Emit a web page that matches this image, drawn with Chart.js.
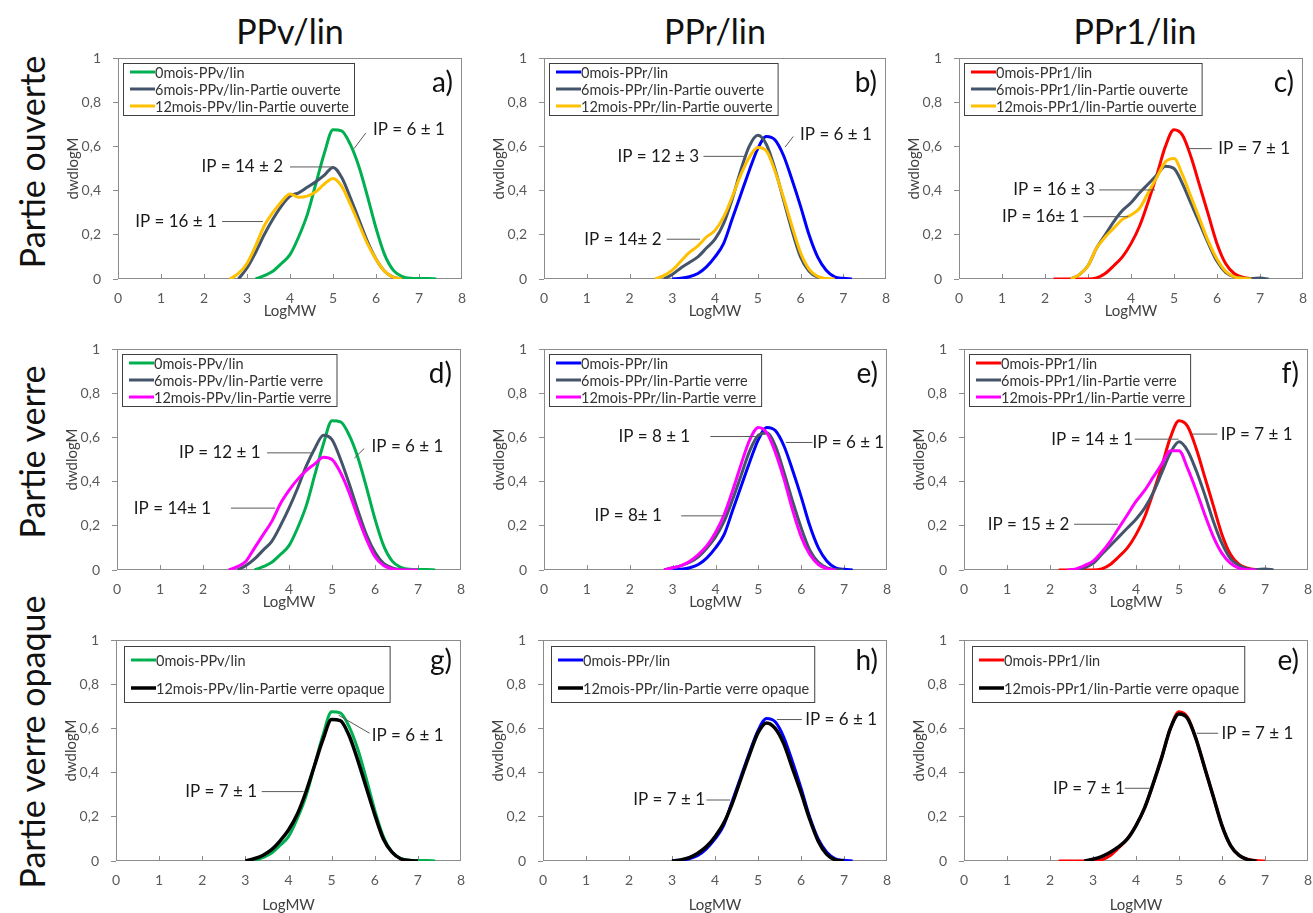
<!DOCTYPE html>
<html lang="fr">
<head>
<meta charset="UTF-8">
<title>dwdlogM - PPv/lin, PPr/lin, PPr1/lin</title>
<script src="https://cdn.jsdelivr.net/npm/chart.js"></script>
<style>
  body { margin:0; width:1313px; height:913px; overflow:hidden; background:#fff; font-family:Lato, sans-serif; position:relative; }
  canvas { position:absolute; }
  .head { position:absolute; font-size:34px; color:#111; white-space:nowrap; transform:translate(-50%,-50%); }
  .side { position:absolute; font-size:34px; color:#111; white-space:nowrap; transform:translate(-50%,-50%) rotate(-90deg); }
</style>
</head>
<body>
<div class="head" style="left:290px;top:30px">PPv/lin</div>
<div class="head" style="left:715px;top:30px">PPr/lin</div>
<div class="head" style="left:1135px;top:30px">PPr1/lin</div>
<div class="side" style="left:31px;top:162px">Partie ouverte</div>
<div class="side" style="left:31px;top:452px">Partie verre</div>
<div class="side" style="left:31px;top:742px">Partie verre opaque</div>

<script>
// abscisse commune (LogMW)
const LOGMW = [2.2, 2.4, 2.6, 2.8, 3.0, 3.2, 3.4, 3.6, 3.8, 4.0, 4.2, 4.4, 4.6, 4.8, 5.0,
               5.2, 5.4, 5.6, 5.8, 6.0, 6.2, 6.4, 6.6, 6.8, 7.0, 7.2, 7.4];
const n = null;

// courbes dwdlogM
const PPV_0       = [n,n,n,n,n,0,0.015,0.035,0.07,0.11,0.19,0.29,0.43,0.57,0.675,0.67,0.61,0.51,0.375,0.23,0.11,0.04,0.012,0.003,0.002,0.002,0];
const PPV_6_OUV   = [n,n,n,0,0.05,0.12,0.2,0.27,0.33,0.375,0.39,0.415,0.44,0.47,0.505,0.46,0.37,0.27,0.17,0.09,0.035,0.008,0,n,n,n,n];
const PPV_12_OUV  = [n,n,0,0.025,0.07,0.15,0.24,0.3,0.35,0.385,0.37,0.375,0.395,0.43,0.455,0.42,0.34,0.25,0.16,0.09,0.035,0.008,0,n,n,n,n];
const PPR_0       = [n,n,n,n,0,0.003,0.01,0.025,0.055,0.1,0.16,0.27,0.38,0.49,0.59,0.645,0.63,0.56,0.45,0.33,0.2,0.1,0.04,0.01,0.003,0,n];
const PPR_6_OUV   = [n,n,n,0,0.02,0.05,0.075,0.1,0.14,0.18,0.25,0.36,0.49,0.6,0.65,0.61,0.5,0.36,0.22,0.1,0.035,0.008,0,n,n,n,n];
const PPR_12_OUV  = [n,n,0,0.015,0.04,0.08,0.12,0.15,0.19,0.22,0.28,0.37,0.47,0.55,0.595,0.58,0.49,0.37,0.24,0.12,0.045,0.012,0.002,0,n,n,n];
const PPR1_0      = [0,0,0,0,0,0.005,0.025,0.06,0.1,0.16,0.24,0.35,0.47,0.6,0.675,0.65,0.55,0.42,0.29,0.16,0.07,0.025,0.008,0.002,0,n,n];
const PPR1_6_OUV  = [n,n,0,0.02,0.06,0.14,0.2,0.26,0.31,0.345,0.39,0.43,0.47,0.51,0.5,0.43,0.34,0.25,0.16,0.08,0.03,0.01,0.003,0.002,0.004,0,n];
const PPR1_12_OUV = [n,n,0,0.02,0.06,0.14,0.19,0.23,0.27,0.29,0.32,0.39,0.46,0.53,0.545,0.47,0.37,0.27,0.17,0.09,0.035,0.01,0.003,0,n,n,n];
const PPV_6_VER   = [n,n,n,0,0.02,0.05,0.09,0.13,0.2,0.28,0.37,0.47,0.55,0.61,0.59,0.5,0.39,0.27,0.16,0.08,0.03,0.01,0.002,0,n,n,n];
const PPV_12_VER  = [n,n,0,0.015,0.04,0.1,0.16,0.22,0.3,0.36,0.41,0.45,0.48,0.51,0.5,0.44,0.35,0.24,0.14,0.06,0.02,0.005,0.001,0,0,n,n];
const PPR_6_VER   = [n,n,n,0,0.01,0.02,0.035,0.06,0.1,0.15,0.22,0.32,0.43,0.54,0.61,0.62,0.56,0.44,0.31,0.19,0.09,0.035,0.01,0.002,0,n,n];
const PPR_12_VER  = [n,n,n,0,0.01,0.02,0.04,0.07,0.11,0.17,0.25,0.36,0.48,0.59,0.645,0.62,0.53,0.41,0.27,0.15,0.07,0.025,0.006,0,n,n,n];
const PPR1_6_VER  = [n,n,0,0.01,0.03,0.07,0.11,0.15,0.19,0.23,0.28,0.35,0.44,0.53,0.58,0.54,0.45,0.34,0.22,0.12,0.05,0.02,0.005,0.002,0.005,0,n];
const PPR1_12_VER = [n,0,0.005,0.02,0.04,0.08,0.13,0.19,0.25,0.31,0.36,0.42,0.48,0.54,0.54,0.46,0.36,0.25,0.15,0.075,0.03,0.008,0.002,0,n,n,n];
const PPV_12_OPA  = [n,n,n,n,0,0.01,0.025,0.05,0.09,0.14,0.21,0.31,0.43,0.55,0.64,0.635,0.57,0.46,0.335,0.21,0.1,0.04,0.01,0.002,0,n,n];
const PPR_12_OPA  = [n,n,n,n,0,0.005,0.015,0.035,0.065,0.11,0.17,0.26,0.37,0.48,0.58,0.625,0.6,0.53,0.42,0.31,0.19,0.09,0.03,0.005,0,n,n];
const PPR1_12_OPA = [n,n,n,0,0.008,0.02,0.04,0.065,0.1,0.16,0.24,0.35,0.47,0.6,0.665,0.645,0.55,0.42,0.29,0.16,0.07,0.025,0.006,0,n,n,n];

// libellés de légende
const LEG_A = ['0mois-PPv/lin', '6mois-PPv/lin-Partie ouverte', '12mois-PPv/lin-Partie ouverte'];
const LEG_B = ['0mois-PPr/lin', '6mois-PPr/lin-Partie ouverte', '12mois-PPr/lin-Partie ouverte'];
const LEG_C = ['0mois-PPr1/lin', '6mois-PPr1/lin-Partie ouverte', '12mois-PPr1/lin-Partie ouverte'];
const LEG_D = ['0mois-PPv/lin', '6mois-PPv/lin-Partie verre', '12mois-PPv/lin-Partie verre'];
const LEG_E = ['0mois-PPr/lin', '6mois-PPr/lin-Partie verre', '12mois-PPr/lin-Partie verre'];
const LEG_F = ['0mois-PPr1/lin', '6mois-PPr1/lin-Partie verre', '12mois-PPr1/lin-Partie verre'];
const LEG_G = ['0mois-PPv/lin', '12mois-PPv/lin-Partie verre opaque'];
const LEG_H = ['0mois-PPr/lin', '12mois-PPr/lin-Partie verre opaque'];
const LEG_I = ['0mois-PPr1/lin', '12mois-PPr1/lin-Partie verre opaque'];

const X_TICKS = [0, 1, 2, 3, 4, 5, 6, 7, 8];
const Y_TICKS = [0, 0.2, 0.4, 0.6, 0.8, 1];

// couleurs
const GREEN = '#00b050', GREY = '#44546a', GOLD = '#ffc000', BLUE = '#0000ff',
      RED = '#ff0000', PINK = '#ff00ff', BLACK = '#000000';

// annotations : texte, x, y, alignement, trait (x1, y1, x2, y2)
const PANELS = [
  { letter: 'a)', rect: [118, 58, 462, 279], labels: LEG_A, data: [PPV_0, PPV_6_OUV, PPV_12_OUV], colors: [GREEN, GREY, GOLD],
    notes: [['IP = 6 ± 1', 5.93, 0.675, 'left', 5.49, 0.59, 5.76, 0.66],
            ['IP = 14 ± 2', 3.84, 0.507, 'right', 4.0, 0.507, 5.0, 0.507],
            ['IP = 16 ± 1', 2.3, 0.26, 'right', 2.42, 0.26, 3.37, 0.26]] },
  { letter: 'b)', rect: [544, 58, 886, 279], labels: LEG_B, data: [PPR_0, PPR_6_OUV, PPR_12_OUV], colors: [BLUE, GREY, GOLD],
    notes: [['IP = 6 ± 1', 5.99, 0.653, 'left', 5.64, 0.597, 5.83, 0.645],
            ['IP = 12 ± 3', 3.63, 0.555, 'right', 3.73, 0.555, 4.74, 0.555],
            ['IP = 14± 2', 2.75, 0.18, 'right', 2.87, 0.18, 3.65, 0.18]] },
  { letter: 'c)', rect: [959, 58, 1303, 279], labels: LEG_C, data: [PPR1_0, PPR1_6_OUV, PPR1_12_OUV], colors: [RED, GREY, GOLD],
    notes: [['IP = 7 ± 1', 6.03, 0.59, 'left', 5.34, 0.59, 5.88, 0.59],
            ['IP = 16 ± 3', 3.16, 0.403, 'right', 3.26, 0.403, 4.56, 0.403],
            ['IP = 16± 1', 2.8, 0.282, 'right', 2.89, 0.282, 3.94, 0.282]] },
  { letter: 'd)', rect: [117, 349, 461, 570], labels: LEG_D, data: [PPV_0, PPV_6_VER, PPV_12_VER], colors: [GREEN, GREY, PINK],
    notes: [['IP = 6 ± 1', 5.92, 0.56, 'left', 5.52, 0.506, 5.75, 0.55],
            ['IP = 12 ± 1', 3.34, 0.53, 'right', 3.49, 0.53, 4.52, 0.53],
            ['IP = 14± 1', 2.19, 0.28, 'right', 2.65, 0.28, 3.68, 0.28]] },
  { letter: 'e)', rect: [544, 349, 887, 570], labels: LEG_E, data: [PPR_0, PPR_6_VER, PPR_12_VER], colors: [BLUE, GREY, PINK],
    notes: [['IP = 8 ± 1', 3.41, 0.604, 'right', 3.88, 0.604, 4.97, 0.604],
            ['IP = 6 ± 1', 6.26, 0.577, 'left', 5.64, 0.577, 6.26, 0.577],
            ['IP = 8± 1', 2.75, 0.245, 'right', 3.2, 0.245, 4.19, 0.245]] },
  { letter: 'f)', rect: [964, 349, 1308, 570], labels: LEG_F, data: [PPR1_0, PPR1_6_VER, PPR1_12_VER], colors: [RED, GREY, PINK],
    notes: [['IP = 14 ± 1', 3.93, 0.592, 'right', 3.97, 0.592, 4.99, 0.592],
            ['IP = 7 ± 1', 5.97, 0.615, 'left', 5.3, 0.615, 5.89, 0.615],
            ['IP = 15 ± 2', 2.45, 0.207, 'right', 2.56, 0.207, 3.58, 0.207]] },
  { letter: 'g)', rect: [116, 640, 461, 861], labels: LEG_G, data: [PPV_0, PPV_12_OPA], colors: [GREEN, BLACK],
    notes: [['IP = 6 ± 1', 5.93, 0.57, 'left', 5.16, 0.66, 5.88, 0.578],
            ['IP = 7 ± 1', 3.27, 0.314, 'right', 3.38, 0.314, 4.35, 0.314]] },
  { letter: 'h)', rect: [543, 640, 887, 861], labels: LEG_H, data: [PPR_0, PPR_12_OPA], colors: [BLUE, BLACK],
    notes: [['IP = 6 ± 1', 6.1, 0.64, 'left', 5.44, 0.64, 6.02, 0.64],
            ['IP = 7 ± 1', 3.77, 0.276, 'right', 3.8, 0.276, 4.35, 0.276]] },
  { letter: 'e)', rect: [964, 640, 1308, 861], labels: LEG_I, data: [PPR1_0, PPR1_12_OPA], colors: [RED, BLACK],
    notes: [['IP = 7 ± 1', 5.99, 0.578, 'left', 5.41, 0.578, 5.91, 0.578],
            ['IP = 7 ± 1', 3.74, 0.329, 'right', 3.74, 0.329, 4.32, 0.329]] }
];

Chart.defaults.font.family = 'Lato';
// marges du canvas autour de la zone de tracé
const LEFT = 65, TOP = 24, RIGHT = 20, BOTTOM = 60;

// cadre, graduations x internes, légende encadrée, annotations
const decor = {
  id: 'decor',
  beforeDatasetsDraw(chart) {
    const { ctx, chartArea: a, scales: { x } } = chart;
    ctx.save();
    ctx.strokeStyle = '#8c8c8c';
    ctx.lineWidth = 1;
    ctx.strokeRect(a.left + 0.5, a.top + 0.5, a.right - a.left - 1, a.bottom - a.top - 1);
    X_TICKS.slice(1, -1).forEach(v => {
      const px = Math.round(x.getPixelForValue(v)) + 0.5;
      ctx.beginPath();
      ctx.moveTo(px, a.bottom);
      ctx.lineTo(px, a.bottom - 5);
      ctx.stroke();
    });
    ctx.restore();
  },
  afterDatasetsDraw(chart) {
    const p = chart.canvas.$panel;
    if (!p) return;
    const { ctx, chartArea: a, scales: { x, y } } = chart;
    const three = p.data.length === 3;
    ctx.save();

    // annotations IP
    ctx.font = '17px Lato';
    ctx.textBaseline = 'middle';
    p.notes.forEach(([t, tx, ty, al, x1, y1, x2, y2]) => {
      ctx.strokeStyle = '#595959';
      ctx.lineWidth = 1;
      ctx.beginPath();
      ctx.moveTo(x.getPixelForValue(x1), y.getPixelForValue(y1));
      ctx.lineTo(x.getPixelForValue(x2), y.getPixelForValue(y2));
      ctx.stroke();
      ctx.fillStyle = '#1a1a1a';
      ctx.textAlign = al;
      ctx.fillText(t, x.getPixelForValue(tx), y.getPixelForValue(ty));
    });

    // lettre du panneau
    ctx.font = '28px Lato';
    ctx.textAlign = 'right';
    ctx.fillStyle = '#111';
    ctx.fillText(p.letter, a.right - 9, a.top + (three ? 25 : 21));

    // légende
    ctx.font = '14.5px Lato';
    const pad = three ? 9 : 14, gap = three ? 17 : 28;
    const bx = a.left + (three ? 5 : 8), by = a.top + (three ? 5 : 6);
    const tw = Math.max(...p.labels.map(s => ctx.measureText(s).width));
    const bw = 7 + 25 + tw + 5, bh = pad * 2 + gap * (p.labels.length - 1);
    ctx.fillStyle = '#fff';
    ctx.fillRect(bx, by, bw, bh);
    ctx.strokeStyle = '#404040';
    ctx.lineWidth = 1;
    ctx.strokeRect(bx + 0.5, by + 0.5, bw, bh);
    ctx.textAlign = 'left';
    chart.data.datasets.forEach((ds, i) => {
      const ry = by + pad + i * gap;
      ctx.strokeStyle = ds.borderColor;
      ctx.lineWidth = ds.borderWidth;
      ctx.beginPath();
      ctx.moveTo(bx + 7, ry);
      ctx.lineTo(bx + 32, ry);
      ctx.stroke();
      ctx.fillStyle = '#333';
      ctx.fillText(ds.label, bx + 32, ry + 1);
    });
    ctx.restore();
  }
};

PANELS.forEach((p, k) => {
  const [L, T, R, B] = p.rect;
  const cv = document.createElement('canvas');
  cv.width = R - L + LEFT + RIGHT;
  cv.height = B - T + TOP + BOTTOM;
  cv.style.left = (L - LEFT) + 'px';
  cv.style.top = (T - TOP) + 'px';
  cv.$panel = p;
  document.body.appendChild(cv);
  const row = Math.floor(k / 3);

  new Chart(cv, {
    type: 'line',
    data: {
      datasets: p.data.map((arr, i) => ({
        label: p.labels[i],
        data: LOGMW.map((v, j) => ({ x: v, y: arr[j] })).filter(pt => pt.y !== null),
        borderColor: p.colors[i],
        borderWidth: p.colors[i] === BLACK ? 3.5 : 3,
        pointRadius: 0,
        cubicInterpolationMode: 'monotone',
        fill: false,
        order: -i
      }))
    },
    plugins: [decor],
    options: {
      responsive: false,
      animation: false,
      devicePixelRatio: 1,
      layout: { padding: { left: 0, top: TOP, right: RIGHT, bottom: 0 } },
      plugins: { legend: { display: false }, tooltip: { enabled: false } },
      scales: {
        x: {
          type: 'linear', min: 0, max: 8,
          afterFit: s => { s.height = BOTTOM; },
          afterBuildTicks: s => { s.ticks = X_TICKS.map(v => ({ value: v })); },
          grid: { display: false, drawTicks: false },
          border: { display: false },
          ticks: { color: '#595959', font: { size: 14 }, padding: 11, maxRotation: 0 },
          title: { display: true, text: 'LogMW', color: '#404040', font: { size: 15 },
                   padding: { top: 0, bottom: row === 2 ? 7 : 19 } }
        },
        y: {
          min: 0, max: 1,
          afterFit: s => { s.width = LEFT; },
          afterBuildTicks: s => { s.ticks = Y_TICKS.map(v => ({ value: v })); },
          grid: { drawOnChartArea: false, drawTicks: true, tickLength: 5, color: '#8c8c8c' },
          border: { display: false },
          ticks: { color: '#595959', font: { size: 14 }, padding: 12,
                   callback: v => String(Math.round(v * 10) / 10).replace('.', ',') },
          title: { display: true, text: 'dwdlogM', color: '#404040', font: { size: 15 },
                   padding: { top: 11, bottom: 0 } }
        }
      }
    }
  });
});
</script>
</body>
</html>
